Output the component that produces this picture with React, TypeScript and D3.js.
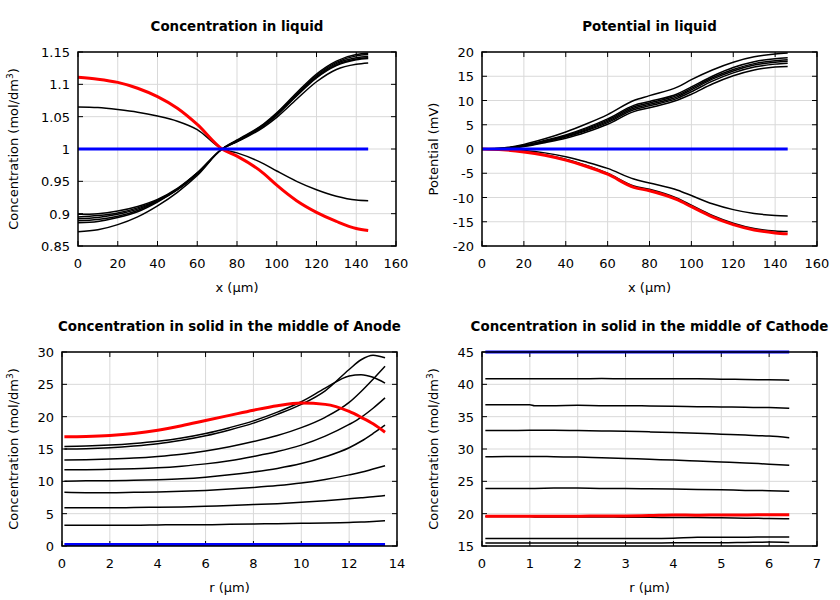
import React from "react";
import * as d3 from "d3";

// ---------- DATA ----------
// Panel 1 & 2: liquid phase, x in µm
const liqX = [0, 10, 20, 30, 40, 50, 60, 72.5, 80, 93.5, 100, 110, 120, 130, 140, 146];

const concLiqBlue = [1, 1, 1, 1, 1, 1, 1, 1, 1, 1, 1, 1, 1, 1, 1, 1];
const concLiqRed = [1.111, 1.108, 1.103, 1.094, 1.081, 1.063, 1.038, 1.0, 0.989, 0.962, 0.944, 0.92, 0.902, 0.888, 0.877, 0.874];
const concLiqDesc = [1.065, 1.064, 1.061, 1.057, 1.051, 1.043, 1.03, 1.0, 0.994, 0.977, 0.966, 0.95, 0.937, 0.927, 0.921, 0.92];
const concLiqAsc1 = [0.899, 0.9, 0.904, 0.911, 0.922, 0.939, 0.963, 1.0, 1.014, 1.039, 1.056, 1.087, 1.116, 1.136, 1.146, 1.148];
const concLiqAsc2 = [0.895, 0.897, 0.901, 0.909, 0.921, 0.938, 0.963, 1.0, 1.013, 1.038, 1.055, 1.085, 1.114, 1.134, 1.144, 1.146];
const concLiqAsc3 = [0.892, 0.894, 0.899, 0.907, 0.92, 0.938, 0.962, 1.0, 1.013, 1.037, 1.054, 1.084, 1.112, 1.132, 1.141, 1.143];
const concLiqAsc4 = [0.889, 0.891, 0.896, 0.905, 0.919, 0.937, 0.962, 1.0, 1.012, 1.036, 1.053, 1.083, 1.111, 1.13, 1.139, 1.141];
const concLiqAsc5 = [0.886, 0.888, 0.894, 0.903, 0.918, 0.937, 0.961, 1.0, 1.012, 1.036, 1.052, 1.082, 1.11, 1.129, 1.138, 1.14];
const concLiqAsc6 = [0.872, 0.875, 0.883, 0.895, 0.912, 0.933, 0.959, 1.0, 1.011, 1.034, 1.049, 1.077, 1.104, 1.123, 1.131, 1.133];

const potLiqBlue = [0, 0, 0, 0, 0, 0, 0, 0, 0, 0, 0, 0, 0, 0, 0, 0];
const potLiqP1 = [0, 0.2, 0.95, 2.1, 3.5, 5.2, 7.1, 10.0, 11.0, 12.8, 14.3, 16.3, 17.9, 19.0, 19.6, 19.8];
const potLiqP2 = [0, 0.15, 0.75, 1.75, 2.9, 4.4, 6.2, 9.0, 9.8, 11.4, 12.8, 15.0, 16.8, 18.0, 18.6, 18.8];
const potLiqP3 = [0, 0.12, 0.7, 1.65, 2.75, 4.2, 5.95, 8.7, 9.5, 11.1, 12.5, 14.7, 16.4, 17.6, 18.2, 18.4];
const potLiqP4 = [0, 0.1, 0.65, 1.55, 2.6, 4.0, 5.7, 8.4, 9.2, 10.8, 12.2, 14.4, 16.1, 17.3, 17.9, 18.1];
const potLiqP5 = [0, 0.08, 0.6, 1.45, 2.45, 3.8, 5.45, 8.1, 8.9, 10.5, 11.8, 14.0, 15.7, 16.9, 17.5, 17.7];
const potLiqP6 = [0, 0.05, 0.5, 1.3, 2.2, 3.5, 5.1, 7.7, 8.5, 10.1, 11.3, 13.4, 15.1, 16.3, 16.9, 17.0];
const potLiqN1 = [0, -0.05, -0.3, -0.8, -1.6, -2.7, -4.0, -6.2, -7.0, -8.5, -9.6, -11.3, -12.5, -13.3, -13.7, -13.8];
const potLiqN2 = [0, -0.12, -0.5, -1.2, -2.1, -3.4, -5.0, -7.6, -8.3, -10.2, -11.6, -13.7, -15.3, -16.4, -16.9, -17.0];
const potLiqRed = [0, -0.15, -0.6, -1.3, -2.3, -3.6, -5.2, -7.9, -8.6, -10.5, -11.9, -14.0, -15.6, -16.7, -17.3, -17.5];

// Panel 3: anode solid, r in µm
const anodeR = [0.1, 1, 2, 3, 4, 5, 6, 7, 8, 9, 10, 11, 12, 12.5, 13, 13.5];
const anodeBlue = [0.25, 0.25, 0.25, 0.25, 0.25, 0.25, 0.25, 0.25, 0.25, 0.25, 0.25, 0.25, 0.25, 0.25, 0.25, 0.25];
const anodeL1 = [3.2, 3.2, 3.2, 3.2, 3.25, 3.3, 3.3, 3.35, 3.4, 3.45, 3.5, 3.55, 3.65, 3.7, 3.8, 3.9];
const anodeL2 = [5.9, 5.9, 5.9, 5.95, 6.0, 6.05, 6.15, 6.25, 6.4, 6.55, 6.75, 7.0, 7.3, 7.45, 7.6, 7.8];
const anodeL3 = [8.3, 8.25, 8.25, 8.3, 8.35, 8.45, 8.6, 8.8, 9.05, 9.35, 9.75, 10.3, 11.0, 11.4, 11.9, 12.4];
const anodeL4 = [10.0, 10.1, 10.1, 10.15, 10.25, 10.4, 10.65, 11.0, 11.45, 12.0, 12.75, 13.8, 15.2, 16.2, 17.4, 18.7];
const anodeL5 = [11.8, 11.8, 11.85, 11.95, 12.1, 12.35, 12.7, 13.2, 13.85, 14.6, 15.6, 17.0, 18.8, 19.9, 21.3, 22.9];
const anodeL6 = [13.3, 13.35, 13.45, 13.6, 13.85, 14.2, 14.7, 15.35, 16.15, 17.1, 18.3, 19.9, 22.2, 23.9, 25.8, 27.8];
const anodeL7 = [15.0, 15.05, 15.2, 15.45, 15.8, 16.35, 17.05, 17.95, 19.0, 20.35, 21.9, 24.0, 27.3, 28.8, 29.5, 29.1];
const anodeL8 = [15.4, 15.45, 15.6, 15.85, 16.2, 16.7, 17.4, 18.3, 19.35, 20.7, 22.3, 24.4, 26.3, 26.5, 26.1, 25.2];
const anodeRed = [16.9, 16.95, 17.1, 17.4, 17.9, 18.6, 19.4, 20.2, 21.0, 21.7, 22.1, 21.9, 20.8, 19.9, 18.9, 17.6];

// Panel 4: cathode solid, r in µm
const cathR = [0.07, 0.5, 1, 1.1, 1.5, 2, 2.5, 3, 3.5, 4, 4.5, 5, 5.5, 6, 6.42];
const cathBlue = [45, 45, 45, 45, 45, 45, 45, 45, 45, 45, 45, 45, 45, 45, 45];
const cathC1 = [40.85, 40.85, 40.85, 40.85, 40.85, 40.85, 40.9, 40.85, 40.85, 40.85, 40.85, 40.8, 40.75, 40.7, 40.65];
const cathC2 = [36.85, 36.85, 36.85, 36.7, 36.7, 36.75, 36.7, 36.7, 36.65, 36.6, 36.55, 36.5, 36.45, 36.4, 36.3];
const cathC3 = [32.85, 32.85, 32.9, 32.9, 32.9, 32.85, 32.8, 32.75, 32.65, 32.55, 32.45, 32.3, 32.15, 32.0, 31.75];
const cathC4 = [28.8, 28.85, 28.85, 28.85, 28.8, 28.75, 28.65, 28.55, 28.4, 28.3, 28.15, 28.0, 27.85, 27.65, 27.5];
const cathC5 = [23.9, 23.9, 23.9, 23.9, 23.95, 23.95, 23.9, 23.9, 23.85, 23.8, 23.75, 23.7, 23.6, 23.55, 23.45];
const cathC6 = [19.55, 19.55, 19.55, 19.5, 19.5, 19.5, 19.5, 19.45, 19.45, 19.4, 19.4, 19.35, 19.3, 19.25, 19.2];
const cathC7 = [16.15, 16.15, 16.15, 16.15, 16.15, 16.15, 16.15, 16.15, 16.15, 16.2, 16.35, 16.35, 16.35, 16.4, 16.4];
const cathC8 = [15.45, 15.45, 15.45, 15.45, 15.45, 15.45, 15.45, 15.45, 15.45, 15.5, 15.5, 15.5, 15.55, 15.6, 15.55];
const cathRed = [19.6, 19.6, 19.6, 19.6, 19.6, 19.6, 19.65, 19.65, 19.7, 19.8, 19.75, 19.8, 19.8, 19.85, 19.85];

// Tick labels
const concLiqTicks = [0.85, 0.9, 0.95, 1, 1.05, 1.1, 1.15];
const potTicks = [-20, -15, -10, -5, 0, 5, 10, 15, 20];
const liqXTicks = [0, 20, 40, 60, 80, 100, 120, 140, 160];
const anodeYTicks = [0, 5, 10, 15, 20, 25, 30];
const anodeXTicks = [0, 2, 4, 6, 8, 10, 12, 14];
const cathYTicks = [15, 20, 25, 30, 35, 40, 45];
const cathXTicks = [0, 1, 2, 3, 4, 5, 6, 7];

// ---------- RENDERING ----------
type Series = { y: number[]; color: string; width: number };

const FONT = "DejaVu Sans, sans-serif";

function Panel(props: {
  left: number; right: number; top: number; bottom: number;
  xDomain: [number, number]; yDomain: [number, number];
  xTicks: number[]; yTicks: number[];
  xs: number[]; series: Series[];
  title: string; xLabel: string; yLabel: React.ReactNode; yLabelX: number;
  fmtY?: (v: number) => string;
}) {
  const { left, right, top, bottom, xDomain, yDomain, xTicks, yTicks, xs, series } = props;
  const x = d3.scaleLinear().domain(xDomain).range([left, right]);
  const y = d3.scaleLinear().domain(yDomain).range([bottom, top]);
  const line = d3.line<number>().x((_, i) => x(xs[i])).y((d) => y(d)).curve(d3.curveMonotoneX);
  const fmtY = props.fmtY || ((v: number) => String(v));
  const tl = 5;
  const cx = (left + right) / 2;
  const cy = (top + bottom) / 2;
  const ordered = [...series].sort((a, b) => a.width - b.width);
  return (
    <g>
      {xTicks.map((t) => (
        <line key={"gx" + t} x1={x(t)} x2={x(t)} y1={top} y2={bottom} stroke="#d9d9d9" strokeWidth={1} />
      ))}
      {yTicks.map((t) => (
        <line key={"gy" + t} x1={left} x2={right} y1={y(t)} y2={y(t)} stroke="#d9d9d9" strokeWidth={1} />
      ))}
      {xTicks.map((t) => (
        <g key={"tx" + t}>
          <line x1={x(t)} x2={x(t)} y1={bottom} y2={bottom - tl} stroke="#000" strokeWidth={1} />
          <line x1={x(t)} x2={x(t)} y1={top} y2={top + tl} stroke="#000" strokeWidth={1} />
          <text x={x(t)} y={bottom + 22} textAnchor="middle" fontSize={13} fontFamily={FONT} fill="#000">{t}</text>
        </g>
      ))}
      {yTicks.map((t) => (
        <g key={"ty" + t}>
          <line x1={left} x2={left + tl} y1={y(t)} y2={y(t)} stroke="#000" strokeWidth={1} />
          <line x1={right} x2={right - tl} y1={y(t)} y2={y(t)} stroke="#000" strokeWidth={1} />
          <text x={left - 8} y={y(t) + 5} textAnchor="end" fontSize={13} fontFamily={FONT} fill="#000">{fmtY(t)}</text>
        </g>
      ))}
      {ordered.map((s, i) => (
        <path key={"s" + i} d={line(s.y) || ""} fill="none" stroke={s.color} strokeWidth={s.width} strokeLinejoin="round" />
      ))}
      <rect x={left} y={top} width={right - left} height={bottom - top} fill="none" stroke="#000" strokeWidth={1.5} />
      <text x={cx} y={top - 21} textAnchor="middle" fontSize={13.4} fontWeight="bold" fontFamily={FONT} fill="#000">{props.title}</text>
      <text x={cx} y={bottom + 46} textAnchor="middle" fontSize={13} fontFamily={FONT} fill="#000">{props.xLabel}</text>
      <text transform={`translate(${props.yLabelX},${cy}) rotate(-90)`} textAnchor="middle" fontSize={13} fontFamily={FONT} fill="#000">{props.yLabel}</text>
    </g>
  );
}

const k = (c: string, w: number) => (y: number[]): Series => ({ y, color: c, width: w });
const blk = k("#000", 1.5);
const red = k("#ff0000", 3);
const blue = k("#0000ff", 3);

const concUnit = (
  <>
    Concentration (mol/dm<tspan dy={-5} fontSize={9}>3</tspan><tspan dy={5}>)</tspan>
  </>
);

export default function App() {
  return (
    <svg width={840} height={600} style={{ position: "absolute", left: 0, top: 0, background: "#fff" }}>
      <rect x={0} y={0} width={840} height={600} fill="#fff" />
      <Panel
        left={78} right={396} top={52} bottom={246}
        xDomain={[0, 160]} yDomain={[0.85, 1.15]}
        xTicks={liqXTicks} yTicks={concLiqTicks} xs={liqX}
        series={[
          blk(concLiqAsc1), blk(concLiqAsc2), blk(concLiqAsc3), blk(concLiqAsc4), blk(concLiqAsc5), blk(concLiqAsc6),
          blk(concLiqDesc), red(concLiqRed), blue(concLiqBlue),
        ]}
        title="Concentration in liquid" xLabel="x (μm)" yLabel={concUnit} yLabelX={18}
      />
      <Panel
        left={482} right={817} top={52} bottom={246}
        xDomain={[0, 160]} yDomain={[-20, 20]}
        xTicks={liqXTicks} yTicks={potTicks} xs={liqX}
        series={[
          blk(potLiqP1), blk(potLiqP2), blk(potLiqP3), blk(potLiqP4), blk(potLiqP5), blk(potLiqP6),
          blk(potLiqN1), blk(potLiqN2), red(potLiqRed), blue(potLiqBlue),
        ]}
        title="Potential in liquid" xLabel="x (μm)" yLabel="Potential (mV)" yLabelX={438}
      />
      <Panel
        left={62} right={397} top={352} bottom={546}
        xDomain={[0, 14]} yDomain={[0, 30]}
        xTicks={anodeXTicks} yTicks={anodeYTicks} xs={anodeR}
        series={[
          blk(anodeL1), blk(anodeL2), blk(anodeL3), blk(anodeL4), blk(anodeL5), blk(anodeL6), blk(anodeL7), blk(anodeL8),
          red(anodeRed), blue(anodeBlue),
        ]}
        title="Concentration in solid in the middle of Anode" xLabel="r (μm)" yLabel={concUnit} yLabelX={18}
      />
      <Panel
        left={482} right={817} top={352} bottom={546}
        xDomain={[0, 7]} yDomain={[15, 45]}
        xTicks={cathXTicks} yTicks={cathYTicks} xs={cathR}
        series={[
          blk(cathC1), blk(cathC2), blk(cathC3), blk(cathC4), blk(cathC5), blk(cathC6), blk(cathC7), blk(cathC8),
          red(cathRed), blue(cathBlue),
        ]}
        title="Concentration in solid in the middle of Cathode" xLabel="r (μm)" yLabel={concUnit} yLabelX={438}
      />
    </svg>
  );
}
